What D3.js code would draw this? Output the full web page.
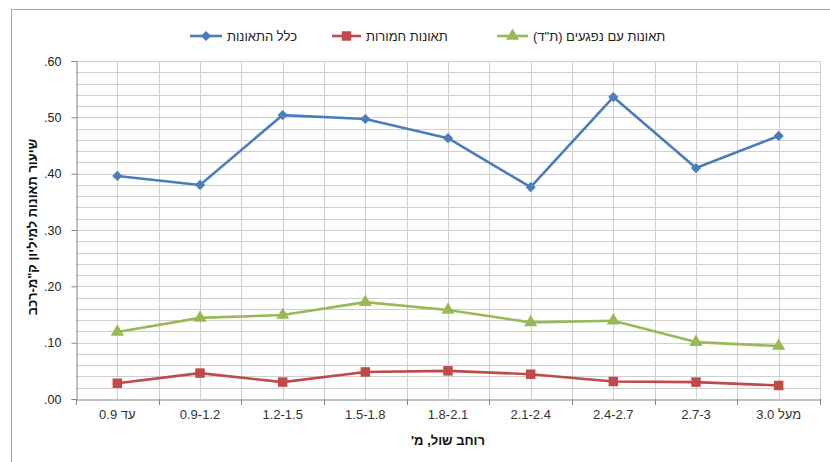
<!DOCTYPE html>
<html>
<head>
<meta charset="utf-8">
<script src="https://cdn.jsdelivr.net/npm/d3@7"></script>
<style>
  html, body { margin: 0; padding: 0; background: #fff; }
  svg { display: block; font-family: "Liberation Sans", Arial, sans-serif; }
</style>
</head>
<body>
<svg id="chart" width="830" height="462"></svg>
<script>
// Shoulder-width categories (m)
const categories = ["עד 0.9", "0.9-1.2", "1.2-1.5", "1.5-1.8", "1.8-2.1", "2.1-2.4", "2.4-2.7", "2.7-3", "מעל 3.0"];

// Accident rate per million vehicle-km
const allAccidents = [0.396, 0.380, 0.504, 0.497, 0.463, 0.376, 0.536, 0.410, 0.467];
const severeAccidents = [0.028, 0.046, 0.030, 0.048, 0.050, 0.044, 0.031, 0.030, 0.024];
const injuryAccidents = [0.119, 0.144, 0.149, 0.172, 0.158, 0.136, 0.139, 0.101, 0.094];

const yTickValues = [0, 0.1, 0.2, 0.3, 0.4, 0.5, 0.6];
const yTickLabels = [".00", ".10", ".20", ".30", ".40", ".50", ".60"];

const seriesNames = ["כלל התאונות", "תאונות חמורות", "תאונות עם נפגעים (ת\"ד)"];
const xTitle = "רוחב שול, מ'";
const yTitle = "שיעור תאונות למיליון ק\"מ-רכב";

const series = [
  { name: seriesNames[0], values: allAccidents, color: "#4a7ebb", marker: "diamond" },
  { name: seriesNames[1], values: severeAccidents, color: "#be4b48", marker: "square" },
  { name: seriesNames[2], values: injuryAccidents, color: "#98b954", marker: "triangle" }
];

const svg = d3.select("#chart");
const plot = { left: 76, right: 820, top: 61, bottom: 399 };
const hebrew = /[\u0590-\u05FF]/;

// outer chart frame
svg.append("rect")
  .attr("x", 11.5).attr("y", 9.5)
  .attr("width", 840).attr("height", 480)
  .attr("fill", "none").attr("stroke", "#a6a6a6").attr("stroke-width", 1);

const x = d3.scaleBand().domain(categories).range([plot.left, plot.right]).padding(0);
const y = d3.scaleLinear().domain([0, 0.6]).range([plot.bottom, plot.top]);
const cx = d => x(d) + x.bandwidth() / 2;

// gridlines: horizontal every 0.02, vertical at band edges and centers
const grid = svg.append("g");
grid.selectAll("line.h")
  .data(d3.range(1, 31).map(i => i * 0.02))
  .join("line")
  .attr("x1", plot.left).attr("x2", plot.right)
  .attr("y1", d => Math.round(y(d)) + 0.5).attr("y2", d => Math.round(y(d)) + 0.5)
  .attr("stroke", "#cfcfcf").attr("stroke-width", 1);

const vx = [];
categories.forEach(c => { vx.push(x(c)); vx.push(cx(c)); });
vx.push(plot.right);
grid.selectAll("line.v")
  .data(vx.slice(1))
  .join("line")
  .attr("x1", d => Math.round(d) + 0.5).attr("x2", d => Math.round(d) + 0.5)
  .attr("y1", plot.top).attr("y2", plot.bottom)
  .attr("stroke", "#cfcfcf").attr("stroke-width", 1);

// y axis
const yAxis = svg.append("g")
  .attr("transform", `translate(${plot.left + 0.5},0)`)
  .call(d3.axisLeft(y).tickValues(yTickValues).tickSize(5).tickPadding(10)
    .tickFormat((d, i) => yTickLabels[i]));
yAxis.select(".domain").attr("stroke", "#868686");
yAxis.selectAll(".tick line").attr("stroke", "#868686");
yAxis.selectAll(".tick text")
  .attr("font-size", 12.5).attr("fill", "#222")
  .attr("font-family", "'Liberation Sans', Arial, sans-serif");

// x axis
const xAxis = svg.append("g")
  .attr("transform", `translate(0,${plot.bottom + 0.5})`)
  .call(d3.axisBottom(x).tickSize(0).tickPadding(10));
xAxis.select(".domain").attr("stroke", "#868686");
xAxis.selectAll(".tick text")
  .attr("font-size", 13).attr("fill", "#333")
  .attr("font-family", "'Liberation Sans', Arial, sans-serif")
  .attr("direction", d => hebrew.test(d) ? "rtl" : "ltr");
// tick marks at category boundaries
svg.append("g").selectAll("line")
  .data(categories.map(c => x(c)).concat([plot.right]))
  .join("line")
  .attr("x1", d => Math.round(d) + 0.5).attr("x2", d => Math.round(d) + 0.5)
  .attr("y1", plot.bottom).attr("y2", plot.bottom + 6)
  .attr("stroke", "#868686");

// axis titles
svg.append("text")
  .attr("x", (plot.left + plot.right) / 2).attr("y", 445)
  .attr("text-anchor", "middle").attr("direction", "rtl")
  .attr("font-size", 13).attr("font-weight", "bold").attr("fill", "#111")
  .text(xTitle);

svg.append("text")
  .attr("transform", `translate(37,${(plot.top + plot.bottom) / 2 - 3}) rotate(-90)`)
  .attr("text-anchor", "middle").attr("direction", "rtl")
  .attr("font-size", 13).attr("font-weight", "bold").attr("fill", "#111")
  .text(yTitle);

// marker shapes: diamond is a square turned 45 degrees
const symbolFor = m => m === "triangle" ? d3.symbolTriangle : d3.symbolSquare;
const sizeFor = m => m === "diamond" ? 52 : m === "square" ? 90 : 75;
const turnFor = m => m === "diamond" ? 45 : 0;

const line = d3.line().x((d, i) => cx(categories[i])).y(d => y(d));

series.forEach(s => {
  const g = svg.append("g");
  g.append("path")
    .attr("d", line(s.values))
    .attr("fill", "none").attr("stroke", s.color)
    .attr("stroke-width", 2.6).attr("stroke-linejoin", "round");
  g.selectAll("path.m")
    .data(s.values)
    .join("path")
    .attr("transform", (d, i) => `translate(${cx(categories[i])},${y(d)}) rotate(${turnFor(s.marker)})`)
    .attr("d", d3.symbol().type(symbolFor(s.marker)).size(sizeFor(s.marker)))
    .attr("fill", s.color);
});

// legend
const legendItems = [
  { s: series[0], x0: 190, x1: 222, tx: 227 },
  { s: series[1], x0: 332, x1: 361, tx: 366 },
  { s: series[2], x0: 497, x1: 528, tx: 533 }
];
const legend = svg.append("g");
legendItems.forEach(it => {
  const ly = 36;
  legend.append("line")
    .attr("x1", it.x0).attr("x2", it.x1).attr("y1", ly).attr("y2", ly)
    .attr("stroke", it.s.color).attr("stroke-width", 2.6);
  legend.append("path")
    .attr("transform", `translate(${(it.x0 + it.x1) / 2},${ly}) rotate(${turnFor(it.s.marker)})`)
    .attr("d", d3.symbol().type(symbolFor(it.s.marker)).size(sizeFor(it.s.marker)))
    .attr("fill", it.s.color);
  legend.append("text")
    .attr("x", it.tx).attr("y", ly + 4.5)
    .attr("direction", "rtl").attr("text-anchor", "end")
    .attr("font-size", 13).attr("fill", "#222")
    .text(it.s.name);
});
</script>
</body>
</html>
